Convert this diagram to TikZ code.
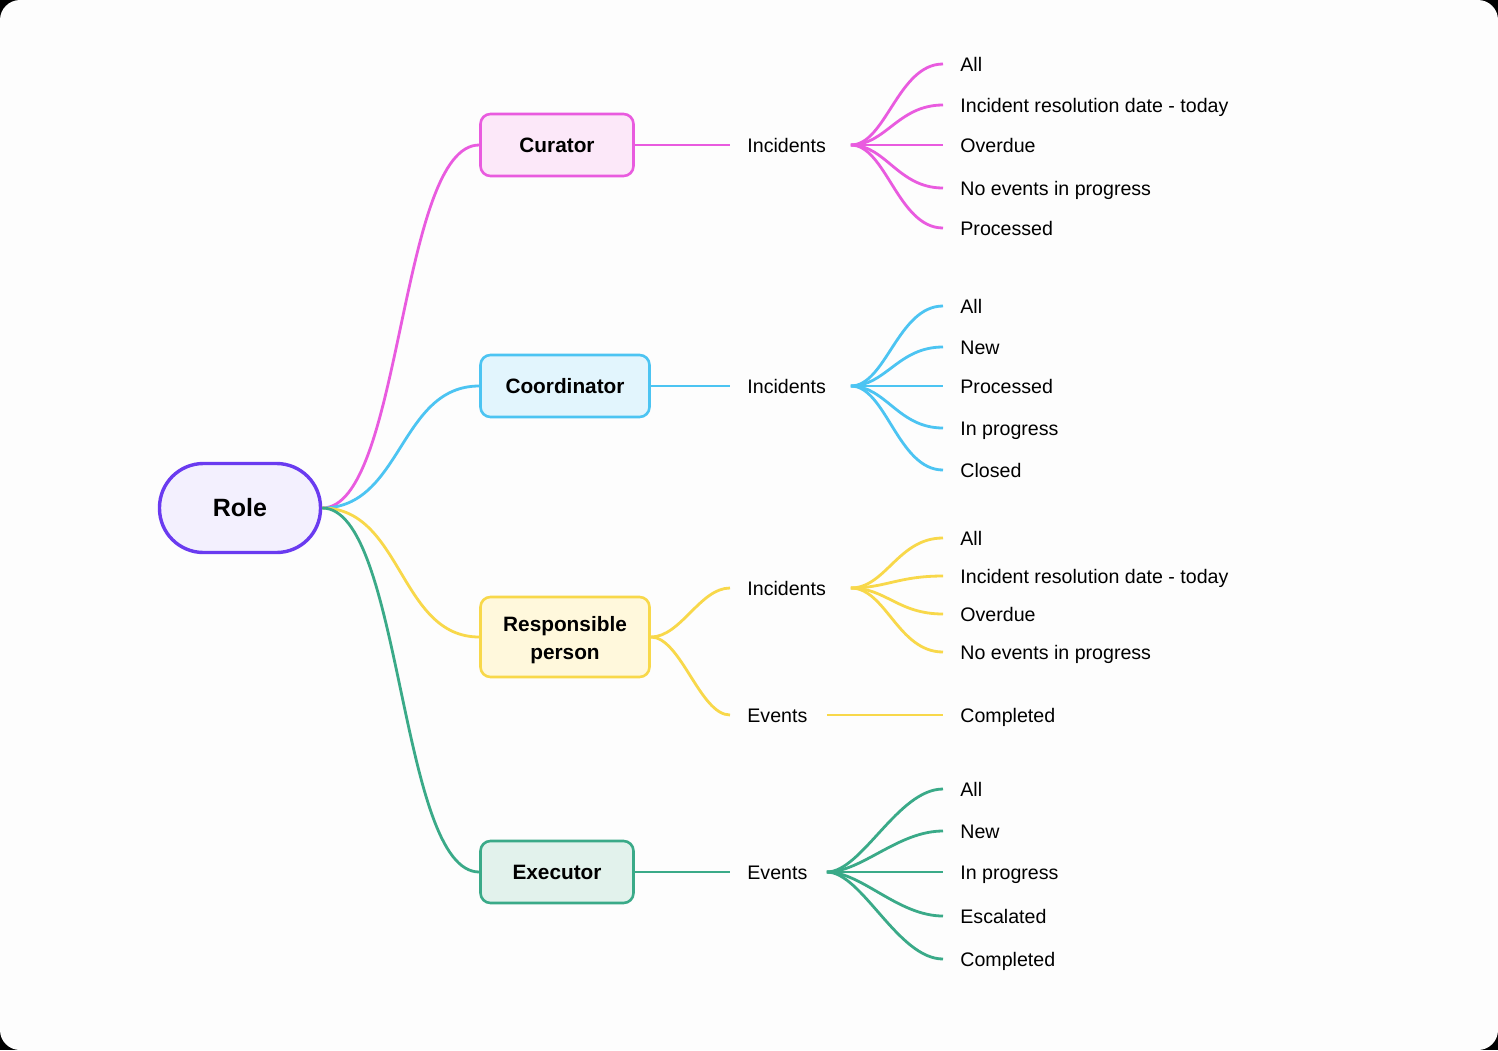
\documentclass[tikz,border=0pt]{standalone}
\usepackage{fontspec}
\setmainfont{Liberation Sans}
\definecolor{pinkc}{HTML}{E95BDF}
\definecolor{pinkf}{HTML}{FCE8F9}
\definecolor{bluec}{HTML}{4CC4F2}
\definecolor{bluef}{HTML}{E2F5FD}
\definecolor{yellowc}{HTML}{F8D84A}
\definecolor{yellowf}{HTML}{FFF8DC}
\definecolor{greenc}{HTML}{3AAA88}
\definecolor{greenf}{HTML}{E2F2EC}
\definecolor{rolec}{HTML}{6A3BF0}
\definecolor{rolef}{HTML}{F3F0FE}
\definecolor{paper}{HTML}{FDFDFD}

\begin{document}
\begin{tikzpicture}[x=0.5pt, y=-0.5pt,
  rolebox/.style={draw=rolec, fill=rolef, line width=1.7pt, rounded corners=22pt,
    minimum width=80.5pt, minimum height=44.5pt, inner sep=0pt,
    font=\fontsize{12.5}{14}\selectfont\bfseries},
  topic/.style={line width=1.3pt, rounded corners=5pt, minimum height=31pt,
    inner sep=0pt, align=center, font=\fontsize{10.4}{14}\selectfont\bfseries},
  label/.style={anchor=west, inner xsep=8.5pt, inner ysep=0pt, text height=7pt,
    text depth=0pt, font=\fontsize{9.8}{12}\selectfont},
  incidents/.style={label, text width=43pt, align=left},
  events/.style={label, text width=31pt, align=left},
  link/.style={line width=1.4pt},
  trunk/.style={link, to path={.. controls +(80,0) and +(-80,0) .. (\tikztotarget)}},
  twig/.style={link, to path={.. controls +(35,0) and +(-45,0) .. (\tikztotarget)}}]

  % Paper
  \fill[black] (0,0) rectangle (1498,1050);
  \fill[paper, rounded corners=10pt] (0,0) rectangle (1498,1050);
  \useasboundingbox (0,0) rectangle (1498,1050);

  % Root
  \node[rolebox] (role) at (240,508) {Role};

  % Roles
  \node[topic, draw=pinkc, fill=pinkf, minimum width=76.5pt] (curator) at (557,145) {Curator};
  \node[topic, draw=bluec, fill=bluef, minimum width=84.5pt] (coord) at (565,386) {Coordinator};
  \node[topic, draw=yellowc, fill=yellowf, minimum width=84.5pt, minimum height=40pt] (resp) at (565,637) {\rule{0pt}{11pt}Responsible\\person};
  \node[topic, draw=greenc, fill=greenf, minimum width=76.5pt] (exec) at (557,872) {Executor};

  \draw[trunk, pinkc] (role.east) to (curator.west);
  \draw[trunk, bluec] (role.east) to (coord.west);
  \draw[trunk, yellowc] (role.east) to (resp.west);
  \draw[trunk, greenc] (role.east) to (exec.west);

  % Curator
  \node[incidents] (curinc) at (730,145) {Incidents};
  \draw[link, pinkc] (curator.east) -- (curinc.west);
  \node[label] (cur1) at (943,64) {All};
  \node[label] (cur2) at (943,105) {Incident resolution date - today};
  \node[label] (cur3) at (943,145) {Overdue};
  \node[label] (cur4) at (943,188) {No events in progress};
  \node[label] (cur5) at (943,228) {Processed};
  \draw[twig, pinkc] (curinc.east) to (cur1.west);
  \draw[twig, pinkc] (curinc.east) to (cur2.west);
  \draw[link, pinkc] (curinc.east) -- (cur3.west);
  \draw[twig, pinkc] (curinc.east) to (cur4.west);
  \draw[twig, pinkc] (curinc.east) to (cur5.west);

  % Coordinator
  \node[incidents] (coinc) at (730,386) {Incidents};
  \draw[link, bluec] (coord.east) -- (coinc.west);
  \node[label] (co1) at (943,306) {All};
  \node[label] (co2) at (943,347) {New};
  \node[label] (co3) at (943,386) {Processed};
  \node[label] (co4) at (943,428) {In progress};
  \node[label] (co5) at (943,470) {Closed};
  \draw[twig, bluec] (coinc.east) to (co1.west);
  \draw[twig, bluec] (coinc.east) to (co2.west);
  \draw[link, bluec] (coinc.east) -- (co3.west);
  \draw[twig, bluec] (coinc.east) to (co4.west);
  \draw[twig, bluec] (coinc.east) to (co5.west);

  % Responsible person
  \node[incidents] (reinc) at (730,588) {Incidents};
  \node[events] (reev) at (730,715) {Events};
  \draw[link, yellowc] (resp.east) .. controls +(30,0) and +(-30,0) .. (reinc.west);
  \draw[link, yellowc] (resp.east) .. controls +(30,0) and +(-30,0) .. (reev.west);
  \node[label] (re1) at (943,538) {All};
  \node[label] (re2) at (943,576) {Incident resolution date - today};
  \node[label] (re3) at (943,614) {Overdue};
  \node[label] (re4) at (943,652) {No events in progress};
  \node[label] (re5) at (943,715) {Completed};
  \draw[twig, yellowc] (reinc.east) to (re1.west);
  \draw[twig, yellowc] (reinc.east) to (re2.west);
  \draw[twig, yellowc] (reinc.east) to (re3.west);
  \draw[twig, yellowc] (reinc.east) to (re4.west);
  \draw[link, yellowc] (reev.east) -- (re5.west);

  % Executor
  \node[events] (exev) at (730,872) {Events};
  \draw[link, greenc] (exec.east) -- (exev.west);
  \node[label] (ex1) at (943,789) {All};
  \node[label] (ex2) at (943,831) {New};
  \node[label] (ex3) at (943,872) {In progress};
  \node[label] (ex4) at (943,916) {Escalated};
  \node[label] (ex5) at (943,959) {Completed};
  \draw[twig, greenc] (exev.east) to (ex1.west);
  \draw[twig, greenc] (exev.east) to (ex2.west);
  \draw[link, greenc] (exev.east) -- (ex3.west);
  \draw[twig, greenc] (exev.east) to (ex4.west);
  \draw[twig, greenc] (exev.east) to (ex5.west);
\end{tikzpicture}
\end{document}
